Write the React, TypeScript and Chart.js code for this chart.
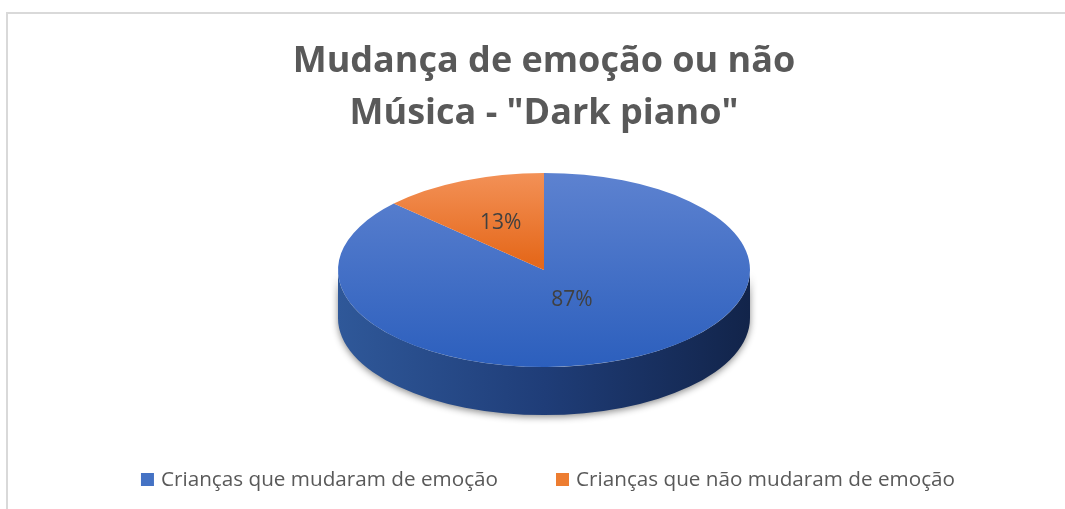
import React, { useEffect, useRef } from 'react';
import { Chart, registerables } from 'chart.js';

Chart.register(...registerables);

const titleLines = ['Mudança de emoção ou não', 'Música - "Dark piano"'];
const categories = ['Crianças que mudaram de emoção', 'Crianças que não mudaram de emoção'];
const shares = [87, 13];

const PIE_RADIUS = 206;
const TILT = 0.471;
const DEPTH = 48;
const LABEL_POS = [0.34, 0.53];
const flatColors = ['#4472c4', '#ed7d31'];
const topStops = [
  [[0, '#5d82d0'], [1, '#2c5fbd']],
  [[0, '#f39157'], [0.45, '#e5691c'], [1, '#d85f10']],
];
const sideStops = [
  [[0, '#2f5899'], [0.5, '#1f3d78'], [1, '#12244a']],
  [[0, '#b4571b'], [1, '#7a3a10']],
];
const legendFont = '20.7px "Open Sans"';
const valueFont = '21px "Open Sans"';

const pie3d = {
  id: 'pie3d',
  beforeDatasetsDraw(chart: any) {
    const meta = chart.getDatasetMeta(0);
    const arcs = meta.data;
    const ctx = chart.ctx;
    ctx.save();
    if (!arcs.length) return;
    const p0 = arcs[0].getProps(['x', 'y', 'outerRadius'], true);
    const cx = p0.x, cy = p0.y, R = p0.outerRadius;
    arcs.forEach((arc: any, i: number) => {
      const { startAngle, endAngle } = arc.getProps(['startAngle', 'endAngle'], true);
      const a0 = Math.max(startAngle, 0);
      const a1 = Math.min(endAngle, Math.PI);
      if (a1 <= a0) return;
      const g = ctx.createLinearGradient(cx - R, 0, cx + R, 0);
      sideStops[i].forEach(([o, c]: any) => g.addColorStop(o, c));
      ctx.save();
      ctx.shadowColor = 'rgba(0,0,0,0.45)';
      ctx.shadowBlur = 7;
      ctx.shadowOffsetY = 2;
      ctx.beginPath();
      ctx.ellipse(cx, cy, R, R * TILT, 0, a0, a1);
      ctx.ellipse(cx, cy + DEPTH, R, R * TILT, 0, a1, a0, true);
      ctx.closePath();
      ctx.fillStyle = g;
      ctx.fill();
      ctx.restore();
    });
    ctx.translate(cx, cy);
    ctx.scale(1, TILT);
    ctx.translate(-cx, -cy);
  },
  afterDatasetsDraw(chart: any) {
    const ctx = chart.ctx;
    ctx.restore();
    const meta = chart.getDatasetMeta(0);
    const data = chart.data.datasets[0].data as number[];
    const total = data.reduce((a, b) => a + b, 0);
    ctx.save();
    ctx.fillStyle = '#404040';
    ctx.font = valueFont;
    ctx.textAlign = 'center';
    ctx.textBaseline = 'middle';
    meta.data.forEach((arc: any, i: number) => {
      const { x, y, startAngle, endAngle, outerRadius } = arc.getProps(['x', 'y', 'startAngle', 'endAngle', 'outerRadius'], true);
      const mid = (startAngle + endAngle) / 2;
      const f = LABEL_POS[i];
      const lx = x + f * outerRadius * Math.cos(mid);
      const ly = y + f * outerRadius * TILT * Math.sin(mid);
      ctx.fillText(Math.round((data[i] / total) * 100) + '%', lx, ly);
    });
    ctx.restore();
  },
  afterDraw(chart: any) {
    // bottom legend
    const ctx = chart.ctx;
    const labels = chart.data.labels as string[];
    const box = 13, gap = 7, spacing = 58;
    ctx.save();
    ctx.font = legendFont;
    const widths = labels.map((l) => ctx.measureText(l).width);
    const total = widths.reduce((a, w) => a + box + gap + w, 0) + spacing * (labels.length - 1);
    let x = chart.width / 2 + 4 - total / 2;
    const y = chart.height - 29.5;
    ctx.textBaseline = 'middle';
    ctx.textAlign = 'left';
    labels.forEach((l, i) => {
      ctx.fillStyle = flatColors[i];
      ctx.fillRect(x, y - box / 2, box, box);
      ctx.fillStyle = '#595959';
      ctx.fillText(l, x + box + gap, y + 1);
      x += box + gap + widths[i] + spacing;
    });
    ctx.restore();
  },
};

export default function App() {
  const ref = useRef<HTMLCanvasElement>(null);
  useEffect(() => {
    document.body.style.margin = '0';
    const chart = new Chart(ref.current!, {
      type: 'pie',
      data: {
        labels: categories,
        datasets: [
          {
            data: shares,
            borderWidth: 0,
            clip: false as any,
            backgroundColor: (c: any) => {
              const area = c.chart.chartArea;
              const i = c.dataIndex ?? 0;
              if (!area) return flatColors[i];
              const cy = (area.top + area.bottom) / 2;
              const g = c.chart.ctx.createLinearGradient(0, cy - PIE_RADIUS, 0, cy + PIE_RADIUS);
              topStops[i].forEach(([o, col]: any) => g.addColorStop(o, col));
              return g;
            },
          },
        ],
      },
      options: {
        animation: false,
        responsive: true,
        maintainAspectRatio: false,
        events: [],
        radius: PIE_RADIUS,
        layout: { padding: { top: 0, bottom: 109, left: 0, right: 0 } },
        plugins: {
          title: {
            display: true,
            text: titleLines,
            color: '#595959',
            font: { family: 'Open Sans', weight: 'bold', size: 36, lineHeight: 52 / 36 },
            padding: { top: 22, bottom: 0 },
          },
          legend: { display: false },
          tooltip: { enabled: false },
        },
      } as any,
      plugins: [pie3d],
    });
    return () => chart.destroy();
  }, []);
  return (
    <div style={{ position: 'relative', width: 1065, height: 509, overflow: 'hidden', background: '#fff' }}>
      <div
        style={{
          position: 'absolute',
          left: 6,
          top: 12,
          width: 1200,
          height: 600,
          borderLeft: '2px solid #d9d9d9',
          borderTop: '2px solid #d9d9d9',
        }}
      />
      <div style={{ position: 'absolute', left: 8, top: 14, width: 1072, height: 495 }}>
        <canvas ref={ref} />
      </div>
    </div>
  );
}
